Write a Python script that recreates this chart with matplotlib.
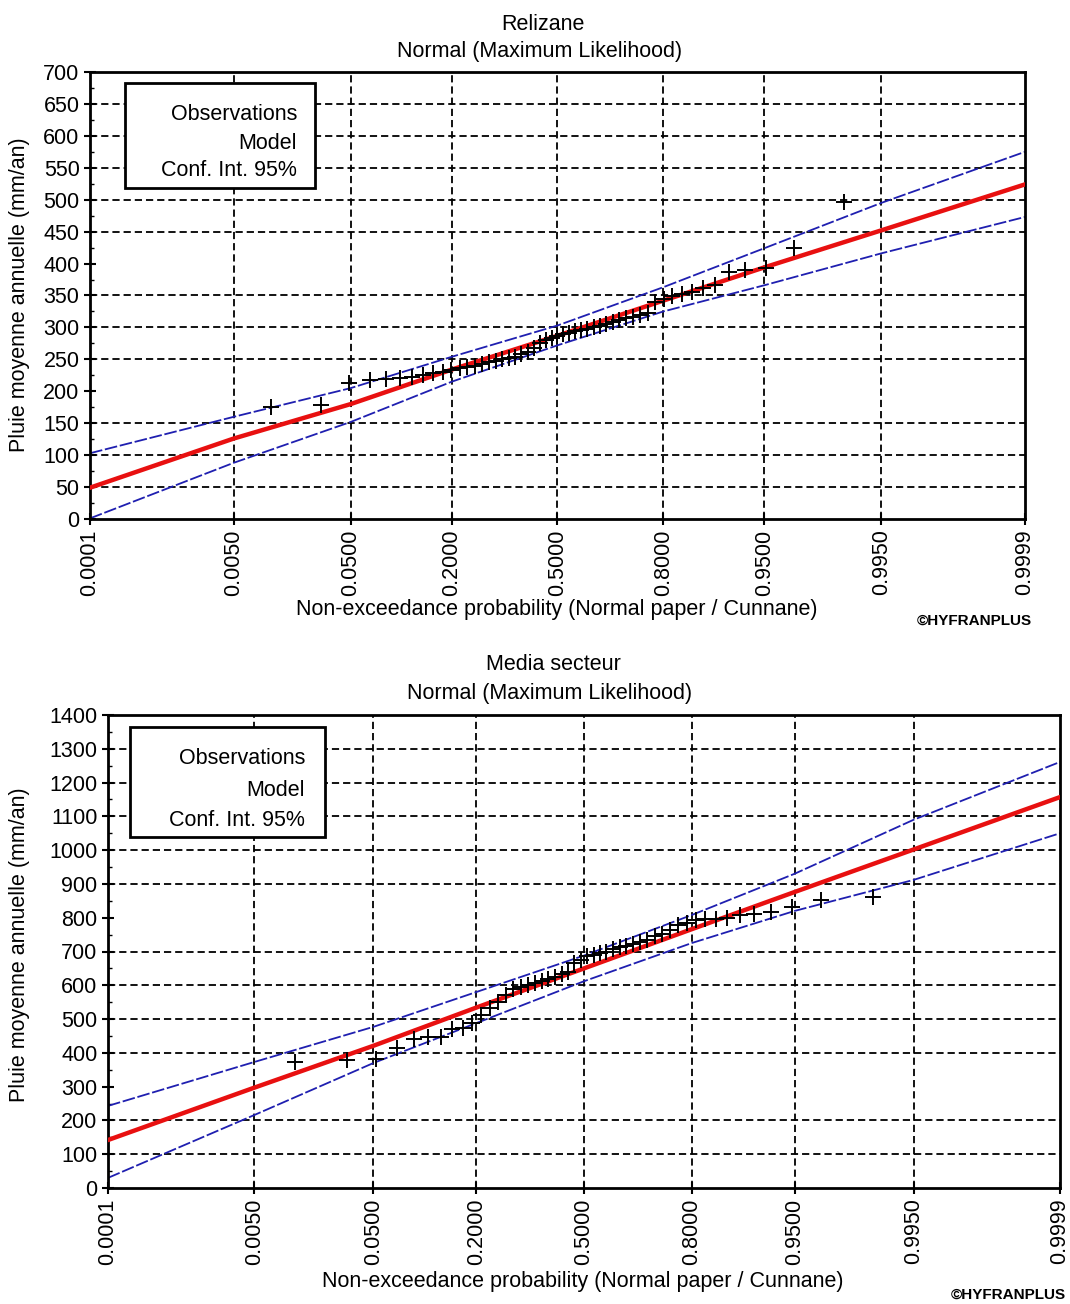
import matplotlib
matplotlib.use('Agg')
import matplotlib.pyplot as plt
import numpy as np
from statistics import NormalDist
from matplotlib.patches import Rectangle
from matplotlib.ticker import MultipleLocator

plt.rcParams['font.family'] = ['Liberation Sans', 'DejaVu Sans']

# ---------------- data ----------------
prob_ticks = [0.0001, 0.0050, 0.0500, 0.2000, 0.5000, 0.8000, 0.9500, 0.9950, 0.9999]
prob_labels = ['0.0001', '0.0050', '0.0500', '0.2000', '0.5000', '0.8000', '0.9500', '0.9950', '0.9999']

# Relizane (top)
rel_obs = [175, 178, 213, 218, 219, 221, 222, 225, 228, 230, 234, 236, 238, 240, 243,
           246, 248, 250, 252, 254, 258, 262, 268, 275, 280, 283, 286, 289, 292, 294,
           296, 298, 300, 303, 306, 308, 311, 314, 317, 320, 322, 340, 345, 349, 352,
           356, 362, 366, 387, 390, 393, 425, 496]
rel_model = [49, 126, 180, 234, 287, 342, 394, 452, 524]
rel_upper = [103, 160, 205, 254, 303, 363, 424, 495, 575]
rel_lower = [1, 88, 152, 215, 272, 325, 366, 416, 473]
rel_yticks = list(range(0, 701, 50))
rel_grid_y = [50, 100, 150, 250, 300, 350, 450, 500, 550, 600, 650]

# Media secteur (bottom)
med_obs = [372, 380, 382, 414, 440, 446, 448, 470, 474, 488, 512, 532, 550, 570, 588,
           595, 600, 606, 612, 618, 625, 632, 640, 665, 675, 686, 690, 695, 700, 706,
           712, 716, 722, 728, 735, 745, 752, 765, 778, 785, 793, 795, 797, 800, 808,
           812, 817, 832, 852, 861]
med_model = [142, 297, 421, 534, 650, 766, 876, 1002, 1157]
med_upper = [243, 373, 477, 580, 688, 808, 930, 1090, 1261]
med_lower = [30, 216, 370, 488, 612, 725, 820, 912, 1050]
med_yticks = list(range(0, 1401, 100))
med_grid_y = [100, 200, 400, 500, 600, 700, 900, 1000, 1100, 1200, 1300]

legend_lines = ['Observations', 'Model', 'Conf. Int. 95%']

nd = NormalDist()


def zq(p):
    return np.array([nd.inv_cdf(float(v)) for v in p])


def cunnane(n):
    i = np.arange(1, n + 1)
    return (i - 0.4) / (n + 0.2)


FS = 15.5
fig = plt.figure(figsize=(10.70, 13.04), dpi=100)

grid_style = dict(color='black', lw=1.3, linestyle=(0, (4, 2.2)), zorder=1)


def panel(rect, obs, model, upper, lower, yticks, grid_y, ymax, minor, leg_rect, leg_tx, leg_ty):
    ax = fig.add_axes(rect)
    zt = zq(prob_ticks)
    ax.set_xlim(zt[0], zt[-1])
    ax.set_ylim(0, ymax)
    for g in grid_y:
        ax.axhline(g, **grid_style)
    for x in zt[1:-1]:
        ax.axvline(x, **grid_style)
    ax.plot(zt, upper, color='#1f1fb0', lw=1.3, linestyle=(0, (7, 1.5)), zorder=2)
    ax.plot(zt, lower, color='#1f1fb0', lw=1.3, linestyle=(0, (7, 1.5)), zorder=2)
    ax.plot(zt, model, color='#e81010', lw=3.2, zorder=3)
    ax.plot(zq(cunnane(len(obs))), obs, linestyle='none', marker='+', ms=11,
            mew=1.4, color='black', zorder=4)
    ax.set_xticks(zt)
    ax.set_xticklabels(prob_labels, rotation=90, fontsize=FS)
    ax.set_yticks(yticks)
    ax.set_yticklabels([str(v) for v in yticks], fontsize=FS)
    ax.yaxis.set_minor_locator(MultipleLocator(minor))
    ax.tick_params(axis='both', which='major', direction='inout', length=9, width=1.5, pad=3)
    ax.tick_params(axis='y', which='minor', direction='in', length=3, width=1)
    for s in ax.spines.values():
        s.set_linewidth(2)
    x0, y0, x1, y1 = leg_rect
    ax.add_patch(Rectangle((x0, y0), x1 - x0, y1 - y0, transform=ax.transAxes,
                           facecolor='white', edgecolor='black', lw=2, zorder=5))
    for t, yy in zip(legend_lines, leg_ty):
        ax.text(leg_tx, yy, t, transform=ax.transAxes, ha='right', va='center',
                fontsize=FS, zorder=6)
    return ax


panel([90 / 1070, 1 - 519 / 1304, 935 / 1070, 447 / 1304],
      rel_obs, rel_model, rel_upper, rel_lower, rel_yticks, rel_grid_y, 700, 25,
      (0.0374, 0.7405, 0.2406, 0.9754), 0.2214, [0.904, 0.841, 0.779])

panel([108 / 1070, 1 - 1188 / 1304, 952 / 1070, 473 / 1304],
      med_obs, med_model, med_upper, med_lower, med_yticks, med_grid_y, 1400, 50,
      (0.0231, 0.742, 0.228, 0.9746), 0.207, [0.907, 0.841, 0.778])

# titles and labels
fig.text(543 / 1070, 1 - 25 / 1304, 'Relizane', ha='center', va='center', fontsize=FS)
fig.text(540 / 1070, 1 - 52 / 1304, 'Normal (Maximum Likelihood)', ha='center', va='center', fontsize=FS)
fig.text(553 / 1070, 1 - 665 / 1304, 'Media secteur', ha='center', va='center', fontsize=FS)
fig.text(550 / 1070, 1 - 693 / 1304, 'Normal (Maximum Likelihood)', ha='center', va='center', fontsize=FS)

fig.text(557 / 1070, 1 - 609 / 1304, 'Non-exceedance probability (Normal paper / Cunnane)',
         ha='center', va='center', fontsize=FS)
fig.text(583 / 1070, 1 - 1282 / 1304, 'Non-exceedance probability (Normal paper / Cunnane)',
         ha='center', va='center', fontsize=FS)

fig.text(20 / 1070, 1 - 295 / 1304, 'Pluie moyenne annuelle (mm/an)', rotation=90,
         ha='center', va='center', fontsize=FS)
fig.text(20 / 1070, 1 - 945 / 1304, 'Pluie moyenne annuelle (mm/an)', rotation=90,
         ha='center', va='center', fontsize=FS)

fig.text(1032 / 1070, 1 - 621 / 1304, '©HYFRANPLUS', ha='right', va='center',
         fontsize=11, fontweight='bold')
fig.text(1066 / 1070, 1 - 1295 / 1304, '©HYFRANPLUS', ha='right', va='center',
         fontsize=11, fontweight='bold')

fig.savefig('out.png', dpi=100)
